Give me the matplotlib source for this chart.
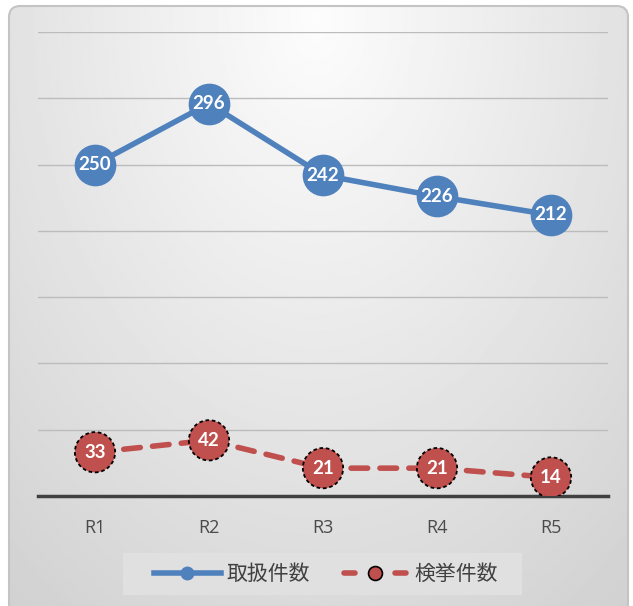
import numpy as np
import matplotlib.pyplot as plt
from matplotlib.patches import FancyBboxPatch, Rectangle
from matplotlib.lines import Line2D
from matplotlib.legend_handler import HandlerBase

plt.rcParams['font.family'] = ['Noto Sans CJK JP', 'DejaVu Sans']

years = ['R1', 'R2', 'R3', 'R4', 'R5']
handled = [250, 296, 242, 226, 212]      # 取扱件数
arrested = [33, 42, 21, 21, 14]          # 検挙件数

blue = '#4f81bd'
red = '#c0504d'


class DashMarkerHandler(HandlerBase):
    # dash - marker - dash, like the office-style legend key
    def create_artists(self, legend, orig, xd, yd, width, height, fontsize, trans):
        y = height / 2 - yd
        x0 = -xd
        seg = width * 0.2
        cap = 2
        left = Line2D([x0 + cap, x0 + seg], [y, y], color=red, lw=4,
                      solid_capstyle='round', transform=trans)
        right = Line2D([x0 + width - seg, x0 + width - cap], [y, y], color=red,
                       lw=4, solid_capstyle='round', transform=trans)
        dot = Line2D([x0 + width / 2], [y], ls='none', marker='o', markersize=10,
                     markerfacecolor=red, markeredgecolor='black',
                     markeredgewidth=1.2, transform=trans)
        return [left, right, dot]


fig = plt.figure(figsize=(6.33, 6.06), dpi=100)

# background panel: soft radial gradient, rounded top corners
bg = fig.add_axes([0, 0, 1, 1])
bg.set_xlim(0, 1)
bg.set_ylim(0, 1)
bg.axis('off')
gx, gy = np.meshgrid(np.linspace(0, 1, 300), np.linspace(0, 1, 300))
r = np.sqrt(((gx - 0.5) / 0.75) ** 2 + ((gy - 0.97) / 1.15) ** 2)
shade = np.clip(0.99 - 0.16 * r, 0.80, 1.0)
im = bg.imshow(shade, cmap='gray', vmin=0, vmax=1, extent=[0, 1, 0, 1],
               origin='lower', aspect='auto')
panel = FancyBboxPatch((9 / 633, -0.05), 619 / 633, 1.05 - 6 / 606,
                       boxstyle='round,pad=0,rounding_size=0.018',
                       transform=bg.transAxes, facecolor='none',
                       edgecolor='#c4c4c4', lw=1.5)
bg.add_patch(panel)
im.set_clip_path(panel)

# legend backing box (wider than matplotlib's own frame)
bg.add_patch(Rectangle((123 / 633, 11 / 606), 399 / 633, 42 / 606,
                       facecolor='#e0e0e0', edgecolor='none', zorder=2))

ax = fig.add_axes([38 / 633, 110 / 606, 570 / 633, 464 / 606])
ax.patch.set_alpha(0)
x = np.arange(len(years))
ax.set_xlim(-0.5, len(years) - 0.5)
ax.set_ylim(0, 350)
ax.set_yticks(np.arange(50, 351, 50))
ax.yaxis.grid(True, color='#bcbcbc', lw=1)
ax.set_axisbelow(True)
for s in ['top', 'right', 'left']:
    ax.spines[s].set_visible(False)
ax.spines['bottom'].set_color('#404040')
ax.spines['bottom'].set_linewidth(2.5)
ax.tick_params(axis='y', left=False, labelleft=False)
ax.tick_params(axis='x', bottom=False, pad=13, labelsize=13, labelcolor='#4a4a4a')
ax.set_xticks(x)
ax.set_xticklabels(years, fontfamily='Open Sans')

ax.plot(x, handled, color=blue, lw=4, marker='o', markersize=29,
        markerfacecolor=blue, markeredgecolor=blue, zorder=3)
ax.plot(x, arrested, color=red, lw=4, ls=(0, (3, 2.2)), zorder=3,
        dash_capstyle='round')
ax.scatter(x, arrested, s=29 ** 2, color=red, edgecolors='black',
           linewidths=1.3, linestyles=(0, (2, 1.5)), zorder=4)

for xi, v in zip(x, handled):
    ax.text(xi, v, str(v), color='white', fontsize=13.5, fontweight='bold',
            ha='center', va='center', fontfamily='Lato', zorder=5)
for xi, v in zip(x, arrested):
    ax.text(xi, v, str(v), color='white', fontsize=13.5, fontweight='bold',
            ha='center', va='center', fontfamily='Lato', zorder=5)

blue_key = Line2D([], [], color=blue, lw=4, marker='o', markersize=9,
                  markerfacecolor=blue, markeredgecolor=blue)
red_key = Line2D([], [], color=red)
leg = fig.legend([blue_key, red_key], ['取扱件数', '検挙件数'], loc='center',
                 bbox_to_anchor=(326 / 633, 32 / 606), ncol=2, frameon=False,
                 fontsize=15, handlelength=3.2, handletextpad=0.3,
                 columnspacing=1.5, borderpad=0.4,
                 handler_map={red_key: DashMarkerHandler()})
for t in leg.get_texts():
    t.set_color('#404040')

fig.savefig('out.png', dpi=100)
